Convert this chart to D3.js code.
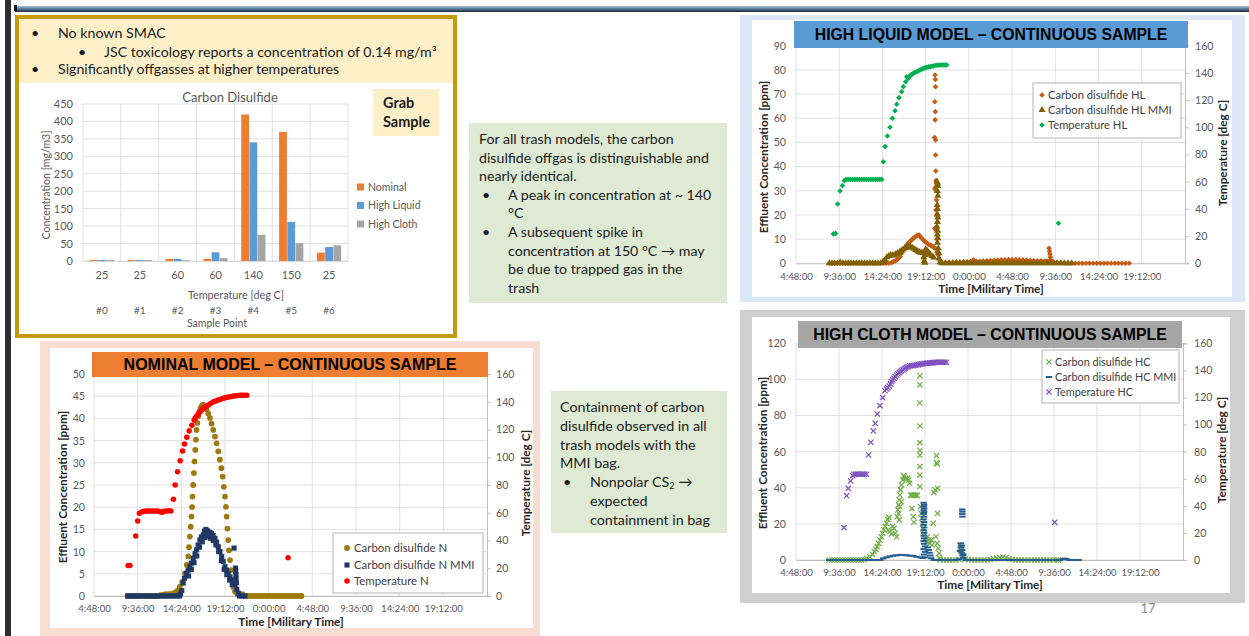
<!DOCTYPE html>
<html>
<head>
<meta charset="utf-8">
<script src="https://cdn.jsdelivr.net/npm/d3@7"></script>
<style>
  html, body { margin: 0; padding: 0; background: #ffffff; }
  svg { display: block; }
</style>
</head>
<body>
<svg id="slide" width="1249" height="636"></svg>
<script>
// ---------- Grab sample bar chart ----------
const samplePoints = ["#0", "#1", "#2", "#3", "#4", "#5", "#6"];
const sampleTemps = ["25", "25", "60", "60", "140", "150", "25"];
const nominalGrab = [3, 3, 6, 6, 420, 370, 24];
const highLiquidGrab = [3, 3, 6, 25, 340, 112, 40];
const highClothGrab = [3, 3, 2, 8, 75, 51, 45];
const concTicks = [0, 50, 100, 150, 200, 250, 300, 350, 400, 450];

// ---------- Continuous samples: [hours since start of day 1, value] ----------
const timeTicks = [4.8, 9.6, 14.4, 19.2, 24, 28.8, 33.6, 38.4, 43.2];
const tempTicks = [0, 20, 40, 60, 80, 100, 120, 140, 160];

// Nominal model
const nomCs2 = [
  [8.5,0],[8.8,0],[9.1,0],[9.4,0],[9.7,0],[10.0,0],[10.3,0],[10.6,0],[10.9,0],[11.2,0],[11.5,0],[11.8,0],
  [12.1,0.2],[12.4,0.3],[12.7,0.4],[13.0,0.4],[13.3,0.5],[13.5,0.6],[13.8,0.9],[14.0,1.2],[14.24,2.1],
  [14.5,3.2],[14.79,5.1],[15.0,7.0],[15.16,8.9],[15.25,11],[15.34,13.4],[15.43,15.6],[15.52,17.9],
  [15.58,20],[15.63,22.4],[15.7,25],[15.78,27.7],[15.85,30.3],[15.93,32.9],[16.0,35.2],[16.07,37.4],
  [16.16,39],[16.26,40.5],[16.38,41.5],[16.51,42.3],[16.65,42.8],[16.81,43.1],[16.95,42.8],[17.08,42.4],
  [17.18,42],[17.36,41.1],[17.54,40.1],[17.72,38.8],[17.91,37.4],[18.1,35.9],[18.28,34.4],[18.46,32.6],
  [18.64,30.7],[18.8,28.8],[18.94,26.9],[19.07,24.6],[19.2,22.4],[19.3,20.1],[19.38,17.9],[19.47,15.2],
  [19.56,12.6],[19.65,10.3],[19.75,8.1],[19.84,5.8],[19.93,3.6],[20.1,2.0],[20.3,1.0],[20.55,0.5],
  [20.85,0.2],[21.1,0.4],[21.4,0],[21.7,0],[22.0,0],[22.3,0],[22.6,0],[22.9,0],[23.2,0],[23.5,0],
  [23.8,0],[24.1,0],[24.4,0],[24.7,0],[25.0,0],[25.3,0],[25.6,0],[25.9,0],[26.2,0],[26.5,0],[26.8,0],
  [27.1,0],[27.4,0],[27.6,0]
];
const nomCs2Mmi = [
  [8.5,0],[8.8,0],[9.1,0],[9.4,0],[9.7,0],[10.0,0],[10.3,0],[10.6,0],[10.9,0],[11.2,0],[11.5,0],[11.8,0],
  [12.1,0],[12.4,0],[12.7,0],[13.0,0],[13.3,0],[13.6,0],[13.9,0],[14.2,0],
  [14.3,0.5],[14.45,1.2],[14.6,2.9],[14.75,4.0],[14.97,5.1],[15.15,5.8],[15.34,6.6],[15.5,7.4],[15.7,8.5],
  [15.9,9.5],[16.07,10.4],[16.25,11.5],[16.44,12.6],[16.6,13.3],[16.81,13.8],[16.95,14.6],[17.1,15.0],
  [17.25,14.7],[17.4,14.4],[17.55,14.3],[17.73,14.1],[17.9,13.6],[18.1,13.0],[18.28,12.1],[18.46,11.1],
  [18.65,10.0],[18.83,8.9],[19.0,7.8],[19.2,6.6],[19.38,5.8],[19.56,5.1],[19.75,4.3],[19.93,3.6],
  [20.1,3.0],[20.3,2.5],[20.5,1.5],[20.67,0.6],
  [15.2,4.5],[15.5,6],[15.8,7.5],[16.1,9],[16.4,11],[16.7,12.2],[17.0,13.2],[17.3,13.5],[17.6,13],
  [17.9,12.5],[18.2,11.5],[18.5,10],[18.8,8],[19.1,6],[19.4,4.8],[19.7,3.6],[20.0,2.6],
  [20.2,10.8],[20.35,6.3],[20.38,5.5],[20.4,4.8],[20.42,4.0],[20.45,3.0],
  [20.8,0],[21.1,0],[21.4,0]
];
const nomTemp = [
  [8.55,22],[8.75,22],[9.39,43.2],[9.6,54],[9.79,59.6],[10.05,60.5],[10.3,61],[10.55,61.2],[10.8,61.2],
  [11.05,61.3],[11.3,61.3],[11.55,61.3],[11.8,61.2],[12.05,60.8],[12.3,60.3],[12.5,61],[12.75,61.3],
  [13.0,61.4],[13.25,61.3],[13.53,69.7],[13.72,80],[13.98,89.6],[14.27,97.5],[14.53,104.5],[14.75,109.5],
  [15.0,114.4],[15.26,119],[15.56,123],[15.81,126.8],[15.95,128.5],[16.1,129.7],[16.3,131.5],[16.47,132.8],
  [16.65,134.2],[16.84,135.3],[17.1,136.6],[17.39,137.6],[17.65,138.9],[17.94,140],[18.2,140.6],
  [18.45,141.2],[18.68,141.7],[18.95,142.3],[19.2,142.8],[19.41,143.2],[19.65,143.5],[19.9,143.8],
  [20.14,144.1],[20.4,144.3],[20.65,144.5],[20.88,144.6],[21.1,144.7],[21.35,144.7],[21.6,144.7],
  [26.13,27.6]
];

// High liquid model
const hlCs2 = [
  [8.5,0],[8.8,0],[9.1,0],[9.4,0],[9.7,0],[10.0,0],[10.3,0],[10.6,0],[10.9,0],[11.2,0],[11.5,0],[11.8,0],
  [12.1,0],[12.4,0],[12.7,0],[13.0,0],[13.3,0],[13.6,0],[13.9,0],[14.2,0],[14.5,0],[14.8,0],[15.1,0],[15.4,0.3],
  [15.61,0.7],[15.8,1.0],[15.99,1.4],[16.18,2.0],[16.36,2.8],[16.55,4.2],[16.73,5.5],[16.9,6.6],[17.1,7.6],
  [17.3,8.4],[17.47,9.0],[17.65,9.7],[17.84,10.3],[18.0,10.9],[18.21,11.4],[18.35,11.6],[18.47,11.7],
  [18.6,11.1],[18.76,10.3],[18.95,9.6],[19.13,9.0],[19.3,8.5],[19.5,7.9],[19.7,7.5],[19.87,7.2],
  [20.05,6.7],[20.24,6.2],[20.45,4.6],[20.61,3.4],[20.8,0.7],
  [20.25,77.9],[20.28,76],[20.3,73],[20.22,66.8],[20.27,62.7],[20.25,59.3],[20.2,52],[20.3,51],
  [20.3,44.8],[20.32,38.2],[20.35,34.2],[20.3,31.4],[20.2,30.8],[20.4,26.2],[20.35,22],[20.42,20],
  [20.2,14.5],[20.3,14],[20.45,10],[20.5,6],
  [21.0,0.3],[21.4,0.3],[21.8,0.4],[22.2,0.4],[22.6,0.5],[23.0,0.5],[23.4,0.6],[23.8,0.6],[24.2,0.7],
  [24.5,1.4],[24.8,0.8],[25.2,0.8],[25.6,0.9],[26.0,1.0],[26.4,1.1],[26.8,1.2],[27.2,1.3],[27.6,1.4],
  [28.0,1.4],[28.4,1.5],[28.8,1.5],[29.2,1.5],[29.6,1.4],[30.0,1.4],[30.4,1.3],[30.8,1.2],[31.2,1.1],
  [31.6,1.0],[32.0,1.0],[32.4,0.9],[32.7,0.9],[32.9,6.2],[32.95,5.0],[33.0,3.8],[33.05,2.6],[33.1,1.5],
  [33.4,0.5],[33.8,0.3],[34.2,0.2],[34.6,0.1],[35.0,0.1],[35.4,0.1],[35.8,0],[36.2,0],[36.6,0],[37.0,0],
  [37.4,0],[37.8,0],[38.2,0],[38.6,0],[39.0,0],[39.4,0],[39.8,0],[40.2,0],[40.6,0],[41.0,0],[41.4,0],[41.8,0]
];
const hlCs2Mmi = [
  [8.5,0],[8.8,0],[9.1,0],[9.4,0],[9.7,0.4],[10.0,0],[10.3,0],[10.6,0],[10.9,0],[11.2,0],[11.5,0],[11.8,0],
  [12.1,0],[12.4,0],[12.7,0],[13.0,0],[13.3,0],[13.6,0],[13.9,0],[14.2,0],
  [14.5,0.7],[14.7,1.4],[14.9,2.5],[15.1,3.0],[15.3,3.4],[15.5,3.3],[15.7,3.4],[15.9,3.8],[16.1,4.2],
  [16.3,4.6],[16.5,5.2],[16.7,5.7],[16.9,6.2],[17.1,6.6],[17.3,6.9],[17.5,6.8],[17.7,6.5],[17.9,6.0],
  [18.1,5.5],[18.3,5.0],[18.5,4.6],[18.7,4.4],[18.9,4.3],[19.0,2.5],[19.05,1.0],[19.1,0.2],[19.15,3.5],
  [19.2,5.8],[19.35,5.2],[19.5,4.5],[19.7,3.7],[19.9,3.0],[20.1,2.4],
  [20.45,33.8],[20.52,33.0],[20.55,32.0],[20.5,29.9],[20.55,28.0],[20.48,24.1],[20.52,22.5],[20.5,20.2],
  [20.55,19.0],[20.5,17.1],[20.45,15.2],[20.52,13.5],[20.5,11.9],[20.55,10.4],[20.5,8.5],[20.6,6.2],
  [20.65,4.3],[20.7,2.0],[20.8,0.5],
  [21.0,0],[21.4,0],[21.8,0],[22.2,0],[22.6,0],[23.0,0],[23.4,0],[23.8,0],[24.2,0],[24.6,0],[25.0,0],
  [25.4,0],[25.8,0],[26.2,0],[26.6,0],[27.0,0],[27.4,0],[27.8,0],[28.2,0],[28.6,0],[29.0,0],[29.4,0],
  [29.8,0],[30.2,0],[30.6,0],[31.0,0],[31.4,0],[31.8,0],[32.2,0],[32.6,0],[33.0,0],[33.4,0],[33.8,0],
  [34.2,0],[34.6,0],[35.0,0],[35.4,0]
];
const hlTemp = [
  [8.95,21.6],[9.2,22],[9.43,43.6],[9.69,53.2],[9.95,57.1],[10.17,60.8],[10.36,61.7],[10.6,61.7],
  [10.85,61.7],[11.1,61.7],[11.35,61.7],[11.6,61.7],[11.85,61.7],[12.1,61.7],[12.35,61.7],[12.6,61.7],
  [12.85,61.7],[13.1,61.7],[13.35,61.7],[13.6,61.7],[13.85,61.7],[14.1,61.7],[14.32,61.7],
  [14.5,74.7],[14.69,85.8],[14.95,93.6],[15.24,100],[15.5,106.6],[15.8,112.2],[15.99,116.9],[16.24,121.8],
  [16.54,126.2],[16.73,129.9],[16.99,133.5],[17.1,137.2],[17.2,136.5],[17.28,136],[17.4,137.2],
  [17.54,138.4],[17.7,139.1],[17.84,139.7],[18.0,140.3],[18.21,140.9],[18.4,141.5],[18.58,142.1],
  [18.76,142.7],[18.95,143.3],[19.13,143.7],[19.32,144.1],[19.5,144.4],[19.69,144.6],[19.87,144.9],
  [20.06,145.1],[20.25,145.4],[20.43,145.6],[20.6,145.7],[20.8,145.8],[21.0,145.8],[21.17,145.8],
  [21.35,145.8],[21.54,145.8],[33.95,29.4]
];

// High cloth model
const hcCs2 = [
  [8.5,0],[8.8,0],[9.1,0],[9.4,0],[9.7,0],[10.0,0],[10.3,0],[10.6,0],[10.9,0],[11.2,0],[11.5,0],[11.8,0],
  [12.1,0],[12.4,0.3],
  [12.68,0.9],[13.05,1.8],[13.35,3.1],[13.54,4.6],[13.72,5.9],[13.87,7.4],[14.02,9.2],[14.17,11.1],
  [14.32,12.9],[14.47,14.8],[14.61,16.6],[14.76,18.5],[14.91,20.3],[15.06,22.5],[15.17,23.6],
  [15.1,16.6],[15.28,15.7],[15.47,14.4],[15.58,18.5],[15.73,17.5],[15.88,14.8],[16.03,12.9],
  [16.1,24.0],[16.18,27.7],[16.25,30.5],[16.32,33.2],[16.4,36.0],[16.47,38.8],[16.58,41.5],[16.7,44.3],
  [16.81,46.7],[16.92,46.2],[17.03,45.2],[17.14,44.7],[17.25,45.2],[17.37,44.3],[17.48,42.5],
  [16.25,25.8],[16.4,29.5],[16.55,32.3],[16.32,22.2],
  [17.59,36],[17.74,35.8],[17.89,36],[18.03,35.8],[18.18,36],[18.33,35.8],
  [17.74,28.6],[17.89,24],[17.96,20.9],
  [18.63,102],[18.63,97],[18.63,87.1],[18.63,74.2],[18.63,65],[18.63,60.6],[18.63,58],[18.63,51.7],
  [18.63,47],[18.63,40.6],[18.7,29.5],[18.78,25.8],[18.85,23.1],[18.93,20.3],[19.0,17.5],
  [19.11,14.8],[19.22,12],[19.37,10.2],[19.48,12.9],[19.6,11.1],[19.74,9.2],[19.89,11.1],[20.0,8.3],
  [20.12,20.3],[20.19,37.3],[20.34,38.8],[20.49,57.8],[20.49,53.9],[20.56,53.2],[20.6,39.7],[20.6,25.8],
  [20.41,12.9],[20.56,9.2],[20.67,6.5],[20.78,3.7],[20.86,0.9],
  [20.9,0],[21.25,0],[21.6,0],[21.95,0],[22.3,0],[22.65,0],[23.0,0.3],
  [23.09,8.3],[23.16,7.0],[23.24,5.5],[23.35,4.1],[23.46,2.2],
  [23.7,0.5],[24.05,0.2],[24.4,0],[24.75,0],[25.1,0],[25.45,0],[25.8,0],[26.15,0],[26.5,0.3],[26.85,0.6],
  [27.2,1.0],[27.55,1.3],[27.9,1.5],[28.25,1.2],[28.6,0.6],[28.95,0.3],[29.3,0],[29.65,0],[30.0,0],
  [30.35,0],[30.7,0],[31.05,0],[31.4,0],[31.75,0],[32.1,0],[32.45,0],[32.8,0],[33.15,0],[33.5,0],
  [33.85,0],[34.1,0]
];
const hcCs2Mmi = [
  [8.5,0],[8.8,0],[9.1,0],[9.4,0],[9.7,0],[10.0,0],[10.3,0],[10.6,0],[10.9,0],[11.2,0],[11.5,0],[11.8,0],
  [12.1,0],[12.4,0],[12.7,0],[13.0,0],[13.3,0],[13.6,0],[13.9,0],[14.2,0],
  [14.54,0.9],[14.91,1.5],[15.28,2.0],[15.65,2.4],[16.03,2.6],[16.4,2.8],[16.77,2.8],[17.14,2.6],
  [17.51,2.4],[17.89,2.2],[18.26,1.8],[18.63,1.5],[18.93,1.1],
  [19.05,31.7],[19.1,30.5],[19.05,29.5],[19.1,28.5],[19.05,27.5],[19.1,26.5],[19.05,25.5],[19.1,24],
  [19.05,22.5],[19.1,21],[19.05,19.5],[19.1,18],[19.05,16.5],[19.1,15],[19.05,13.5],[19.1,12],
  [19.05,10.5],[19.1,9],[19.2,7.5],[19.05,6],[19.2,4.5],[19.1,3],[19.2,1.5],
  [19.5,7],[19.6,5.5],[19.7,4],[19.8,2.5],[19.9,1],
  [20.2,0],[20.55,0],[20.9,0],[21.25,0],[21.6,0],[21.95,0],[22.3,0],[22.65,0],[23.0,0.5],
  [23.35,28.0],[23.38,26.8],[23.36,25.5],[23.38,24.0],[23.2,9.2],[23.3,8.0],[23.25,7.0],[23.35,5.5],
  [23.3,4.0],[23.4,2.5],[23.45,1.2],[23.1,5.0],[23.5,3.0],
  [23.75,0],[24.1,0],[24.45,0],[24.8,0],[25.15,0],[25.5,0],[25.85,0],[26.2,0],[26.55,0],[26.9,0],
  [27.25,0],[27.6,0],[27.95,0],[28.3,0],[28.65,0],[29.0,0],[29.35,0],[29.7,0],[30.05,0],[30.4,0],
  [30.75,0],[31.1,0],[31.45,0],[31.8,0],[32.15,0],[32.5,0],[32.85,0],[33.2,0],[33.55,0],[33.9,0],
  [34.25,0],[34.6,0.5],[34.8,0.8],[35.0,0.5],[35.3,0],[35.65,0],[36.0,0],[36.35,0]
];
const hcTemp = [
  [10.15,23.9],[10.45,47.5],[10.64,52.9],[10.9,58.3],[11.12,62.3],[11.27,63.3],[11.45,63.3],[11.65,63.5],
  [11.85,63.3],[12.05,63.3],[12.25,63.5],[12.45,63.3],[12.68,63.3],[12.9,77.5],[13.16,86.9],[13.42,95.3],
  [13.65,100.9],[13.87,107.8],[14.17,114],[14.47,119.9],[14.73,125],[14.91,126.3],[15.05,127.3],
  [15.21,128.5],[15.35,130],[15.47,131.7],[15.6,133],[15.73,134.2],[15.88,135.4],[16.03,136.6],
  [16.18,137.5],[16.32,138.3],[16.45,139],[16.58,139.8],[16.73,140.4],[16.88,141],[17.0,141.7],
  [17.14,142.3],[17.3,142.8],[17.51,143.3],[17.7,143.4],[17.89,143.5],[18.08,143.8],[18.26,144],
  [18.45,144.3],[18.63,144.5],[18.82,144.8],[19.0,145],[19.2,145.1],[19.37,145.2],[19.55,145.4],
  [19.74,145.5],[19.93,145.6],[20.12,145.7],[20.3,145.9],[20.49,146],[20.68,146],[20.86,146],[21.05,146],
  [21.23,146],[21.42,146],[21.6,146],[33.68,27.8]
];

// ---------- Drawing ----------
const FONT = "Lato, 'Open Sans', sans-serif";
const HEAD_FONT = "'Liberation Sans', Arial, sans-serif";
const svg = d3.select("#slide");

// slide chrome
const defs = svg.append("defs");
const grad = defs.append("linearGradient").attr("id", "topRule").attr("x1", 0).attr("x2", 0).attr("y1", 0).attr("y2", 1);
grad.append("stop").attr("offset", "0%").attr("stop-color", "#a8c2d8");
grad.append("stop").attr("offset", "45%").attr("stop-color", "#5d7f9b");
grad.append("stop").attr("offset", "100%").attr("stop-color", "#17283a");
svg.append("rect").attr("x", 15).attr("y", 6).attr("width", 1234).attr("height", 6).attr("fill", "url(#topRule)");
svg.append("rect").attr("x", 5).attr("y", 0).attr("width", 6).attr("height", 636).attr("fill", "#2e2e2e");
svg.append("rect").attr("x", 14).attr("y", 5).attr("width", 3).attr("height", 6).attr("fill", "#111");

// ---------- Top-left notes + grab-sample bar chart ----------
const tl = svg.append("g");
tl.append("rect").attr("x", 17).attr("y", 17).attr("width", 438).attr("height", 319)
  .attr("fill", "#ffffff").attr("stroke", "#c39a0a").attr("stroke-width", 4);
tl.append("rect").attr("x", 19).attr("y", 19).attr("width", 434).attr("height", 64).attr("fill", "#fdf0c9");

const noteLines = [
  { bx: 31, tx: 58, y: 33, text: "No known SMAC" },
  { bx: 78, tx: 104, y: 52, text: "JSC toxicology reports a concentration of 0.14 mg/m³" },
  { bx: 31, tx: 58, y: 69, text: "Significantly offgasses at higher temperatures" }
];
noteLines.forEach(l => {
  tl.append("text").attr("x", l.bx).attr("y", l.y).attr("dy", "0.35em").attr("font-family", FONT)
    .attr("font-size", 14.2).attr("fill", "#1a1a1a").text("•");
  tl.append("text").attr("x", l.tx).attr("y", l.y).attr("dy", "0.35em").attr("font-family", FONT)
    .attr("font-size", 14.2).attr("fill", "#1a1a1a").text(l.text);
});

// Grab Sample tag
tl.append("rect").attr("x", 373).attr("y", 89).attr("width", 66).attr("height", 47).attr("fill", "#fdf0c9");
["Grab", "Sample"].forEach((t, i) => {
  tl.append("text").attr("x", 383).attr("y", 103 + i * 19).attr("dy", "0.35em").attr("font-family", FONT)
    .attr("font-weight", "bold").attr("font-size", 14.5).attr("fill", "#1a1a1a").text(t);
});

const grabSeries = [
  { name: "Nominal", values: nominalGrab, color: "#ed7d31" },
  { name: "High Liquid", values: highLiquidGrab, color: "#5b9bd5" },
  { name: "High Cloth", values: highClothGrab, color: "#a5a5a5" }
];
const bx = d3.scaleBand().domain(samplePoints).range([83, 348]);
const bInner = d3.scaleBand().domain(grabSeries.map(s => s.name))
  .range([bx.bandwidth() * 0.18, bx.bandwidth() * 0.82]).paddingInner(0.05);
const by = d3.scaleLinear().domain([0, 450]).range([261, 104]);

const grid = tl.append("g").attr("stroke", "#d9d9d9").attr("stroke-width", 0.8);
concTicks.forEach(v => grid.append("line").attr("x1", 83).attr("x2", 348).attr("y1", by(v)).attr("y2", by(v)));
samplePoints.forEach(p => grid.append("line").attr("x1", bx(p)).attr("x2", bx(p)).attr("y1", 104).attr("y2", 261));
grid.append("line").attr("x1", 348).attr("x2", 348).attr("y1", 104).attr("y2", 261);

grabSeries.forEach(s => {
  tl.append("g").selectAll("rect").data(s.values).join("rect")
    .attr("x", (d, i) => bx(samplePoints[i]) + bInner(s.name))
    .attr("width", bInner.bandwidth())
    .attr("y", d => by(d))
    .attr("height", d => by(0) - by(d))
    .attr("fill", s.color);
});

const byAxis = tl.append("g").attr("transform", "translate(83,0)")
  .call(d3.axisLeft(by).tickValues(concTicks).tickSize(0).tickPadding(10));
byAxis.select(".domain").remove();
byAxis.selectAll("text").attr("font-family", FONT).attr("font-size", 11).attr("fill", "#595959");

const bxAxis = tl.append("g").attr("transform", "translate(0,261)")
  .call(d3.axisBottom(bx).tickSize(0).tickFormat((d, i) => sampleTemps[i]));
bxAxis.select(".domain").attr("stroke", "#d9d9d9");
bxAxis.selectAll("text").attr("y", 14).attr("dy", "0.35em").attr("font-family", FONT).attr("font-size", 11).attr("fill", "#595959");
tl.append("g").selectAll("text").data(samplePoints).join("text")
  .attr("x", d => bx(d) + bx.bandwidth() / 2).attr("y", 310).attr("dy", "0.35em")
  .attr("text-anchor", "middle").attr("font-family", FONT).attr("font-size", 10).attr("fill", "#595959").text(d => d);

tl.append("text").attr("x", 230).attr("y", 97).attr("dy", "0.35em").attr("text-anchor", "middle")
  .attr("font-family", FONT).attr("font-size", 13).attr("fill", "#595959").text("Carbon Disulfide");
tl.append("text").attr("x", 236).attr("y", 295).attr("dy", "0.35em").attr("text-anchor", "middle")
  .attr("font-family", FONT).attr("font-size", 10.8).attr("fill", "#595959").text("Temperature  [deg C]");
tl.append("text").attr("x", 217).attr("y", 323).attr("dy", "0.35em").attr("text-anchor", "middle")
  .attr("font-family", FONT).attr("font-size", 10.5).attr("fill", "#595959").text("Sample Point");
tl.append("text").attr("transform", "translate(46,185) rotate(-90)").attr("dy", "0.35em").attr("text-anchor", "middle")
  .attr("font-family", FONT).attr("font-size", 10.6).attr("fill", "#595959").text("Concentration [mg/m3]");

grabSeries.forEach((s, i) => {
  const y = 187 + i * 18.5;
  tl.append("rect").attr("x", 357).attr("y", y - 3.5).attr("width", 7).attr("height", 7).attr("fill", s.color);
  tl.append("text").attr("x", 368).attr("y", y).attr("dy", "0.35em").attr("font-family", FONT)
    .attr("font-size", 10.5).attr("fill", "#595959").text(s.name);
});

// ---------- Green commentary boxes ----------
function noteBox(box, lines, size) {
  const g = svg.append("g");
  g.append("rect").attr("x", box.x).attr("y", box.y).attr("width", box.w).attr("height", box.h).attr("fill", "#dfead5");
  lines.forEach((l, i) => {
    const y = box.firstY + i * box.step;
    if (l.bullet) {
      g.append("text").attr("x", box.bulletX).attr("y", y).attr("dy", "0.35em").attr("font-family", FONT)
        .attr("font-size", size).attr("fill", "#1a1a1a").text("•");
    }
    const t = g.append("text").attr("x", l.indent ? box.indentX : box.textX).attr("y", y).attr("dy", "0.35em")
      .attr("font-family", FONT).attr("font-size", size).attr("fill", "#1a1a1a");
    l.parts.forEach(p => {
      const ts = t.append("tspan").text(p.t);
      if (p.sub) ts.attr("font-size", size * 0.65).attr("baseline-shift", "-25%");
    });
  });
}
noteBox({ x: 469, y: 123, w: 258, h: 180, firstY: 139, step: 18.6, textX: 479, bulletX: 482, indentX: 508 }, [
  { parts: [{ t: "For all trash models, the carbon" }] },
  { parts: [{ t: "disulfide offgas is distinguishable and" }] },
  { parts: [{ t: "nearly identical." }] },
  { bullet: true, indent: true, parts: [{ t: "A peak in concentration at ~ 140" }] },
  { indent: true, parts: [{ t: "°C" }] },
  { bullet: true, indent: true, parts: [{ t: "A subsequent spike in" }] },
  { indent: true, parts: [{ t: "concentration at 150 °C → may" }] },
  { indent: true, parts: [{ t: "be due to trapped gas in the" }] },
  { indent: true, parts: [{ t: "trash" }] }
], 14.2);
noteBox({ x: 551, y: 391, w: 176, h: 142, firstY: 407, step: 18.8, textX: 560, bulletX: 563, indentX: 590 }, [
  { parts: [{ t: "Containment of carbon" }] },
  { parts: [{ t: "disulfide observed in all" }] },
  { parts: [{ t: "trash models with the" }] },
  { parts: [{ t: "MMI bag." }] },
  { bullet: true, indent: true, parts: [{ t: "Nonpolar CS" }, { t: "2", sub: true }, { t: " →" }] },
  { indent: true, parts: [{ t: "expected" }] },
  { indent: true, parts: [{ t: "containment in bag" }] }
], 14.3);

// ---------- Continuous-sample scatter charts ----------
function markerPath(kind, size) {
  if (kind === "dash") return "M-3.2,0H3.2";
  const types = { circle: d3.symbolCircle, square: d3.symbolSquare, diamond: d3.symbolDiamond2,
                  triangle: d3.symbolTriangle, x: d3.symbolTimes };
  return d3.symbol().type(types[kind]).size(size)();
}
function styleMarker(sel, s) {
  if (s.kind === "x" || s.kind === "dash") {
    sel.attr("fill", "none").attr("stroke", s.color).attr("stroke-width", s.kind === "dash" ? 2 : 1.2);
  } else {
    sel.attr("fill", s.color);
  }
}
function timeLabel(h) {
  const total = Math.round(h * 3600);
  const hh = Math.floor(total / 3600) % 24;
  const mm = Math.floor((total % 3600) / 60);
  const ss = total % 60;
  return `${hh}:${String(mm).padStart(2, "0")}:${String(ss).padStart(2, "0")}`;
}

function continuousChart(c) {
  const g = svg.append("g");
  g.append("rect").attr("x", c.frame.x).attr("y", c.frame.y).attr("width", c.frame.w).attr("height", c.frame.h).attr("fill", c.frame.fill);
  g.append("rect").attr("x", c.inner.x).attr("y", c.inner.y).attr("width", c.inner.w).attr("height", c.inner.h).attr("fill", "#ffffff");

  const p = c.plot;
  const x = d3.scaleLinear().domain([4.8, 48]).range([p.l, p.r]);
  const y = d3.scaleLinear().domain([0, c.yMax]).range([p.b, p.t]);
  const yT = d3.scaleLinear().domain([0, 160]).range([p.b, p.t]);

  const gl = g.append("g").attr("stroke", "#d9d9d9").attr("stroke-width", 0.8);
  c.yTicks.forEach(v => gl.append("line").attr("x1", p.l).attr("x2", p.r).attr("y1", y(v)).attr("y2", y(v)));
  timeTicks.forEach(v => gl.append("line").attr("x1", x(v)).attr("x2", x(v)).attr("y1", p.t).attr("y2", p.b));

  const ax = g.append("g").attr("transform", `translate(0,${p.b})`)
    .call(d3.axisBottom(x).tickValues(timeTicks).tickFormat(timeLabel).tickSize(0));
  ax.select(".domain").attr("stroke", "#bfbfbf");
  ax.selectAll("text").attr("y", c.xLabelY - p.b).attr("dy", "0.35em")
    .attr("font-family", FONT).attr("font-size", 9.6).attr("fill", "#595959");

  const ayl = g.append("g").attr("transform", `translate(${p.l},0)`)
    .call(d3.axisLeft(y).tickValues(c.yTicks).tickSize(0).tickPadding(p.l - c.leftLabelX));
  ayl.select(".domain").remove();
  ayl.selectAll("text").attr("font-family", FONT).attr("font-size", 10.6).attr("fill", "#595959");

  const ayr = g.append("g").attr("transform", `translate(${p.r},0)`)
    .call(d3.axisRight(yT).tickValues(tempTicks).tickSize(4).tickPadding(c.rightLabelX - p.r - 4));
  ayr.select(".domain").attr("stroke", "#bfbfbf");
  ayr.selectAll("line").attr("stroke", "#bfbfbf");
  ayr.selectAll("text").attr("font-family", FONT).attr("font-size", 10.6).attr("fill", "#595959");

  // series, in legend order
  c.series.forEach(s => {
    const ys = s.axis === "temp" ? yT : y;
    const path = markerPath(s.kind, s.size);
    const m = g.append("g").selectAll("path").data(s.data).join("path")
      .attr("transform", d => `translate(${x(d[0])},${ys(d[1])})`).attr("d", path);
    styleMarker(m, s);
  });

  // title bar
  g.append("rect").attr("x", c.bar.x).attr("y", c.bar.y).attr("width", c.bar.w).attr("height", c.bar.h).attr("fill", c.bar.fill);
  g.append("text").attr("x", c.bar.x + c.bar.w / 2).attr("y", c.bar.y + c.bar.h / 2).attr("dy", "0.36em")
    .attr("text-anchor", "middle").attr("font-family", HEAD_FONT).attr("font-weight", "bold")
    .attr("font-size", c.bar.size).attr("fill", "#000").text(c.bar.text);

  // axis titles
  g.append("text").attr("transform", `translate(${c.leftTitle.x},${c.leftTitle.y}) rotate(-90)`).attr("dy", "0.35em")
    .attr("text-anchor", "middle").attr("font-family", FONT).attr("font-weight", "bold").attr("font-size", 11.8)
    .attr("fill", "#262626").text("Effluent Concentration [ppm]");
  g.append("text").attr("transform", `translate(${c.rightTitle.x},${c.rightTitle.y}) rotate(-90)`).attr("dy", "0.35em")
    .attr("text-anchor", "middle").attr("font-family", FONT).attr("font-weight", "bold").attr("font-size", 11.8)
    .attr("fill", "#262626").text("Temperature [deg C]");
  g.append("text").attr("x", c.xTitle.x).attr("y", c.xTitle.y).attr("dy", "0.35em").attr("text-anchor", "middle")
    .attr("font-family", FONT).attr("font-weight", "bold").attr("font-size", 11.8).attr("fill", "#262626")
    .text("Time [Military Time]");

  // legend
  const L = c.legend;
  g.append("rect").attr("x", L.x).attr("y", L.y).attr("width", L.w).attr("height", L.h)
    .attr("fill", "#ffffff").attr("stroke", "#b4b4b4").attr("stroke-width", 1);
  c.series.forEach((s, i) => {
    const yy = L.rows[i];
    const m = g.append("path").attr("transform", `translate(${L.markerX},${yy})`).attr("d", markerPath(s.kind, s.size));
    styleMarker(m, s);
    g.append("text").attr("x", L.textX).attr("y", yy).attr("dy", "0.35em").attr("font-family", FONT)
      .attr("font-size", L.size).attr("fill", "#404040").text(s.name);
  });
}

continuousChart({
  frame: { x: 40, y: 341, w: 500, h: 300, fill: "#f7ddd2" },
  inner: { x: 50, y: 348, w: 483, h: 280 },
  plot: { l: 94, r: 487, t: 374, b: 596 },
  yMax: 50, yTicks: [0, 5, 10, 15, 20, 25, 30, 35, 40, 45, 50],
  leftLabelX: 85, rightLabelX: 496, xLabelY: 609,
  leftTitle: { x: 63, y: 487 }, rightTitle: { x: 526, y: 483 }, xTitle: { x: 291, y: 622 },
  bar: { x: 92, y: 352, w: 396, h: 25, fill: "#ed7d31", size: 16, text: "NOMINAL MODEL – CONTINUOUS SAMPLE" },
  legend: { x: 333, y: 533, w: 150, h: 60, rows: [548, 565, 581], markerX: 347, textX: 354, size: 11.4 },
  series: [
    { name: "Carbon disulfide N", data: nomCs2, kind: "circle", size: 26, color: "#9c7a0e" },
    { name: "Carbon disulfide N MMI", data: nomCs2Mmi, kind: "square", size: 26, color: "#1f3864" },
    { name: "Temperature N", data: nomTemp, kind: "circle", size: 24, color: "#ff0000", axis: "temp" }
  ]
});

continuousChart({
  frame: { x: 740, y: 15, w: 505, h: 287, fill: "#dae8f5" },
  inner: { x: 752, y: 20, w: 480, h: 277 },
  plot: { l: 796, r: 1185, t: 45.7, b: 263.3 },
  yMax: 90, yTicks: [0, 10, 20, 30, 40, 50, 60, 70, 80, 90],
  leftLabelX: 786, rightLabelX: 1195, xLabelY: 277,
  leftTitle: { x: 764, y: 157 }, rightTitle: { x: 1223, y: 153 }, xTitle: { x: 991, y: 289 },
  bar: { x: 794, y: 21, w: 394, h: 27, fill: "#5b9bd5", size: 15.8, text: "HIGH LIQUID MODEL – CONTINUOUS SAMPLE" },
  legend: { x: 1033, y: 83, w: 148, h: 55, rows: [95, 110, 125], markerX: 1042, textX: 1048, size: 11.2 },
  series: [
    { name: "Carbon disulfide HL", data: hlCs2, kind: "diamond", size: 20, color: "#c55a11" },
    { name: "Carbon disulfide HL MMI", data: hlCs2Mmi, kind: "triangle", size: 22, color: "#806000" },
    { name: "Temperature HL", data: hlTemp, kind: "diamond", size: 20, color: "#00b050", axis: "temp" }
  ]
});

continuousChart({
  frame: { x: 740, y: 310, w: 505, h: 293, fill: "#cfcfcf" },
  inner: { x: 752, y: 317, w: 478, h: 276 },
  plot: { l: 796, r: 1183, t: 343.3, b: 560 },
  yMax: 120, yTicks: [0, 20, 40, 60, 80, 100, 120],
  leftLabelX: 786, rightLabelX: 1194, xLabelY: 573,
  leftTitle: { x: 763, y: 453 }, rightTitle: { x: 1222, y: 450 }, xTitle: { x: 990, y: 585 },
  bar: { x: 798, y: 321, w: 384, h: 27, fill: "#a6a6a6", size: 15.8, text: "HIGH CLOTH MODEL – CONTINUOUS SAMPLE" },
  legend: { x: 1042, y: 350, w: 137, h: 53, rows: [362, 377, 392], markerX: 1049, textX: 1055, size: 10.8 },
  series: [
    { name: "Carbon disulfide HC", data: hcCs2, kind: "x", size: 20, color: "#70ad47" },
    { name: "Carbon disulfide HC MMI", data: hcCs2Mmi, kind: "dash", size: 0, color: "#265e91" },
    { name: "Temperature HC", data: hcTemp, kind: "x", size: 20, color: "#7f4fbf", axis: "temp" }
  ]
});

// page number
svg.append("text").attr("x", 1148).attr("y", 608).attr("dy", "0.35em").attr("text-anchor", "middle")
  .attr("font-family", FONT).attr("font-size", 13).attr("fill", "#8c8c8c").text("17");
</script>
</body>
</html>
